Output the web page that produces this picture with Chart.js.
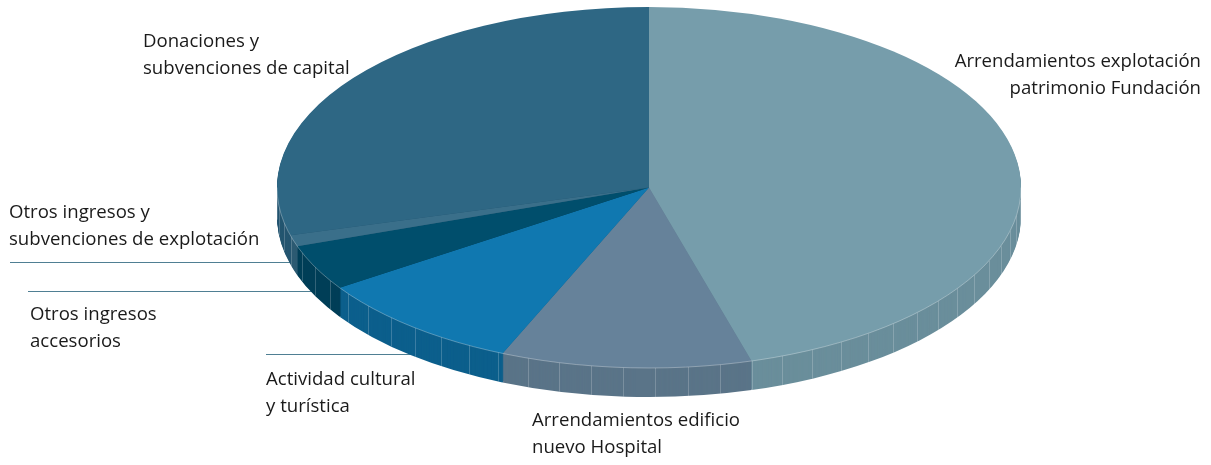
<!DOCTYPE html>
<html>
<head>
<meta charset="utf-8">
<script src="https://cdn.jsdelivr.net/npm/chart.js@4/dist/chart.umd.min.js"></script>
<style>
  html, body { margin: 0; padding: 0; background: #ffffff; }
  canvas { display: block; }
</style>
</head>
<body>
<canvas id="dataChart" width="1211" height="465"></canvas>
<script>
// data (per cent of total income)
var categories = [
    'Arrendamientos explotación patrimonio Fundación',
    'Arrendamientos edificio nuevo Hospital',
    'Actividad cultural y turística',
    'Otros ingresos accesorios',
    'Otros ingresos y subvenciones de explotación',
    'Donaciones y subvenciones de capital'
];
var values = [45.6, 10.9, 9.2, 4.1, 1.0, 29.3];
var labelLines = [
    ['Arrendamientos explotación', 'patrimonio Fundación'],
    ['Arrendamientos edificio', 'nuevo Hospital'],
    ['Actividad cultural', 'y turística'],
    ['Otros ingresos', 'accesorios'],
    ['Otros ingresos y', 'subvenciones de explotación'],
    ['Donaciones y', 'subvenciones de capital']
];

// styles
var topColors  = ['#769dab', '#66829a', '#1078b0', '#004e6c', '#3a6f8a', '#2e6784'];
var sideColors = ['#6a8e9b', '#5a7488', '#0c5f8c', '#003e57', '#2c5a72', '#245570'];

// label layout: x, y of first line, alignment, optional leader line [x1, x2, y]
var labelLayout = [
    { x: 1201, y: 62,  align: 'right' },
    { x: 532,  y: 421, align: 'left' },
    { x: 266,  y: 380, align: 'left', line: [266, 430, 354] },
    { x: 30,   y: 315, align: 'left', line: [28, 330, 291] },
    { x: 9,    y: 213, align: 'left', line: [10, 310, 262] },
    { x: 143,  y: 42,  align: 'left' }
];

// ellipse geometry of the 3d pie
var CX = 649, CY = 187.5, RX = 372, RY = 180.5, DEPTH = 29;

function withColor(arc, color) {
    var el = Object.create(arc);
    el.options = Object.assign({}, arc.options, {
        backgroundColor: color,
        borderColor: color,
        borderWidth: 0
    });
    return el;
}

var pie3d = {
    id: 'pie3d',
    beforeDatasetsDraw: function (chart) {
        var ctx = chart.ctx;
        var arcs = chart.getDatasetMeta(0).data;
        var a0 = arcs[0];
        var R = a0.outerRadius;
        var sx = RX / R, sy = RY / R;

        // leader lines (under the pie)
        ctx.save();
        ctx.strokeStyle = '#4f7f93';
        ctx.lineWidth = 1;
        labelLayout.forEach(function (l) {
            if (!l.line) return;
            ctx.beginPath();
            ctx.moveTo(l.line[0], l.line[2] + 0.5);
            ctx.lineTo(l.line[1], l.line[2] + 0.5);
            ctx.stroke();
        });
        ctx.restore();

        // side walls
        for (var d = DEPTH; d >= 1; d--) {
            ctx.save();
            ctx.setTransform(sx, 0, 0, sy, CX - sx * a0.x, CY + d - sy * a0.y);
            arcs.forEach(function (arc, i) {
                withColor(arc, sideColors[i]).draw(ctx);
            });
            ctx.restore();
        }

        // facets on the side
        ctx.save();
        ctx.strokeStyle = 'rgba(255,255,255,0.2)';
        ctx.lineWidth = 1;
        for (var t = 4; t < 180; t += 5) {
            var th = t * Math.PI / 180;
            var px = Math.round(CX + RX * Math.cos(th)) + 0.5;
            var py = CY + RY * Math.sin(th);
            ctx.beginPath();
            ctx.moveTo(px, py);
            ctx.lineTo(px, py + DEPTH);
            ctx.stroke();
        }
        ctx.restore();

        // top face
        ctx.save();
        ctx.setTransform(sx, 0, 0, sy, CX - sx * a0.x, CY - sy * a0.y);
        arcs.forEach(function (arc, i) {
            withColor(arc, topColors[i]).draw(ctx);
        });
        ctx.restore();

        // light rim on the front edge
        ctx.save();
        ctx.strokeStyle = 'rgba(255,255,255,0.3)';
        ctx.lineWidth = 1;
        ctx.beginPath();
        ctx.ellipse(CX, CY, RX, RY, 0, 0, Math.PI);
        ctx.stroke();
        ctx.restore();

        return false;
    },
    afterDraw: function (chart) {
        var ctx = chart.ctx;
        ctx.save();
        ctx.font = '18.6px "Open Sans"';
        ctx.fillStyle = '#1a1a1a';
        ctx.textBaseline = 'middle';
        labelLayout.forEach(function (l, i) {
            ctx.textAlign = l.align;
            labelLines[i].forEach(function (txt, j) {
                ctx.fillText(txt, l.x, l.y + j * 27);
            });
        });
        ctx.restore();
    }
};

var ctx = document.getElementById('dataChart').getContext('2d');
var myChart = new Chart(ctx, {
    type: 'pie',
    data: {
        labels: categories,
        datasets: [{
            data: values,
            backgroundColor: topColors,
            borderWidth: 0
        }]
    },
    options: {
        responsive: false,
        animation: false,
        plugins: {
            legend: { display: false },
            tooltip: { enabled: false }
        }
    },
    plugins: [pie3d]
});
</script>
</body>
</html>
